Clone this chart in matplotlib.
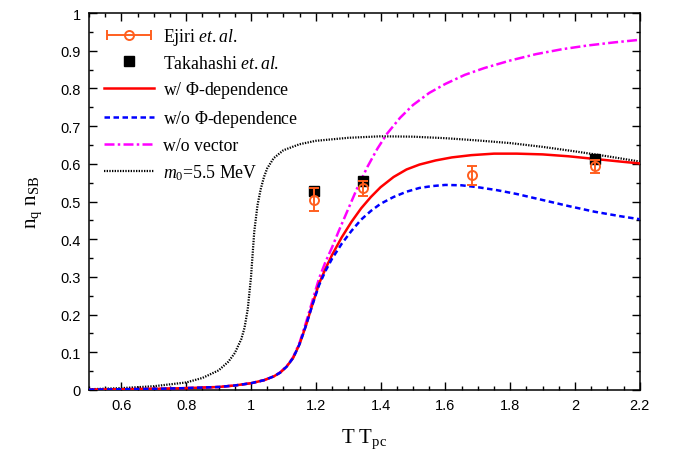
import matplotlib
matplotlib.use("Agg")
import matplotlib.pyplot as plt
import numpy as np
from matplotlib.ticker import MultipleLocator
from matplotlib.legend_handler import HandlerErrorbar

plt.rcParams['mathtext.fontset'] = 'custom'
plt.rcParams['mathtext.rm'] = 'Liberation Serif'
plt.rcParams['mathtext.it'] = 'Liberation Serif:italic'

# Lattice data
ejiri_T = [1.195, 1.346, 1.683, 2.063]
ejiri_n = [0.505, 0.535, 0.570, 0.593]
ejiri_err = [0.030, 0.020, 0.025, 0.017]

taka_T = [1.195, 1.346, 2.063]
taka_n = [0.527, 0.554, 0.614]

# Model curves
T_phi = [0.50, 0.60, 0.70, 0.80, 0.90, 0.95, 1.00, 1.04, 1.07, 1.09, 1.11, 1.13, 1.15,
         1.17, 1.19, 1.21, 1.23, 1.25, 1.28, 1.31, 1.34, 1.37, 1.40, 1.44, 1.48, 1.52,
         1.57, 1.62, 1.68, 1.75, 1.82, 1.90, 1.98, 2.06, 2.14, 2.20]
n_phi = [0.001, 0.002, 0.003, 0.005, 0.008, 0.012, 0.018, 0.026, 0.036, 0.046, 0.062,
         0.085, 0.122, 0.172, 0.228, 0.282, 0.322, 0.358, 0.405, 0.446, 0.482, 0.512,
         0.538, 0.565, 0.585, 0.598, 0.609, 0.617, 0.623, 0.627, 0.627, 0.625, 0.620,
         0.613, 0.606, 0.601]

T_nophi = [0.50, 0.60, 0.70, 0.80, 0.90, 0.95, 1.00, 1.04, 1.07, 1.09, 1.11, 1.13, 1.15,
           1.17, 1.19, 1.21, 1.23, 1.25, 1.28, 1.31, 1.34, 1.37, 1.40, 1.44, 1.48, 1.52,
           1.56, 1.60, 1.65, 1.70, 1.76, 1.82, 1.90, 1.98, 2.06, 2.14, 2.20]
n_nophi = [0.001, 0.002, 0.003, 0.005, 0.008, 0.012, 0.018, 0.026, 0.036, 0.046, 0.062,
           0.085, 0.122, 0.172, 0.227, 0.278, 0.316, 0.348, 0.388, 0.422, 0.452, 0.475,
           0.494, 0.512, 0.526, 0.536, 0.541, 0.544, 0.543, 0.538, 0.530, 0.520, 0.504,
           0.488, 0.473, 0.461, 0.453]

T_novec = [0.50, 0.60, 0.70, 0.80, 0.90, 0.95, 1.00, 1.04, 1.07, 1.09, 1.11, 1.13, 1.15,
           1.17, 1.19, 1.21, 1.23, 1.25, 1.27, 1.30, 1.33, 1.36, 1.39, 1.42, 1.46, 1.50,
           1.55, 1.60, 1.66, 1.72, 1.80, 1.88, 1.96, 2.04, 2.12, 2.20]
n_novec = [0.001, 0.002, 0.003, 0.005, 0.008, 0.012, 0.018, 0.026, 0.036, 0.047, 0.063,
           0.087, 0.126, 0.180, 0.238, 0.296, 0.340, 0.378, 0.420, 0.480, 0.540, 0.593,
           0.640, 0.680, 0.722, 0.756, 0.788, 0.812, 0.836, 0.854, 0.874, 0.891, 0.904,
           0.914, 0.922, 0.929]

T_m0 = [0.50, 0.60, 0.70, 0.80, 0.85, 0.90, 0.93, 0.95, 0.97, 0.98, 0.99, 1.00, 1.005,
        1.01, 1.02, 1.03, 1.04, 1.05, 1.07, 1.10, 1.15, 1.20, 1.30, 1.40, 1.50, 1.60,
        1.70, 1.80, 1.90, 2.00, 2.10, 2.20]
n_m0 = [0.002, 0.005, 0.010, 0.020, 0.032, 0.052, 0.075, 0.098, 0.135, 0.165, 0.215,
        0.300, 0.360, 0.420, 0.490, 0.533, 0.565, 0.588, 0.615, 0.636, 0.652, 0.661,
        0.669, 0.673, 0.672, 0.668, 0.662, 0.655, 0.645, 0.633, 0.620, 0.606]

orange = '#ff5f1f'

fig = plt.figure(figsize=(6.77, 4.60), dpi=100)
ax = fig.add_axes([0.1315, 0.150, 0.8135, 0.8195])

h_phi, = ax.plot(T_phi, n_phi, color='#ff0000', lw=1.8, zorder=3)
h_nophi, = ax.plot(T_nophi, n_nophi, color='#0000ff', lw=1.8, ls=(0, (2.2, 1.4)), zorder=3)
h_novec, = ax.plot(T_novec, n_novec, color='#ff00ff', lw=1.8, ls=(0, (4, 1.3, 1, 1.3)),
                   zorder=2)
h_m0, = ax.plot(T_m0, n_m0, color='black', lw=1.6, ls=(0, (0.6, 0.6)), zorder=2)

err_style = dict(fmt='o', mfc='none', mec=orange, ms=6.5, mew=1.4, ecolor=orange,
                 elinewidth=1.4, capsize=3.5, capthick=1.4)
ax.errorbar(ejiri_T, ejiri_n, yerr=ejiri_err, zorder=5, **err_style)
# legend key drawn as a horizontal error bar
h_ejiri = ax.errorbar([np.nan], [np.nan], xerr=[0.1], **err_style)
h_taka, = ax.plot(taka_T, taka_n, 's', color='black', ms=7, ls='none', zorder=4)

ax.set_xlim(0.5, 2.2)
ax.set_ylim(0, 1)
ax.xaxis.set_minor_locator(MultipleLocator(0.05))
ax.yaxis.set_minor_locator(MultipleLocator(0.05))
ax.set_xticks([0.6, 0.8, 1.0, 1.2, 1.4, 1.6, 1.8, 2.0, 2.2])
ax.set_xticklabels(['0.6', '0.8', '1', '1.2', '1.4', '1.6', '1.8', '2', '2.2'])
ax.set_yticks([0, 0.1, 0.2, 0.3, 0.4, 0.5, 0.6, 0.7, 0.8, 0.9, 1.0])
ax.set_yticklabels(['0', '0.1', '0.2', '0.3', '0.4', '0.5', '0.6', '0.7', '0.8', '0.9', '1'])
ax.tick_params(which='both', direction='in', top=True, right=True, width=1.0,
               labelsize=10.5, labelfontfamily='Liberation Sans', pad=6)
ax.tick_params(which='major', length=6)
ax.tick_params(which='minor', length=3)
for s in ax.spines.values():
    s.set_linewidth(1.1)

ax.set_xlabel(r'T T$_{\mathrm{pc}}$', fontsize=15, family='Liberation Serif', labelpad=10)
ax.set_ylabel(r'n$_{\mathrm{q}}$ n$_{\mathrm{SB}}$', fontsize=15, family='Liberation Serif',
              labelpad=12)

handles = [h_ejiri, h_taka, h_phi, h_nophi, h_novec, h_m0]
labels = [r'Ejiri $\it{et.al.}$', r'Takahashi $\it{et.al.}$', r'w/ $\Phi$-dependence',
          r'w/o $\Phi$-dependence', 'w/o vector', r'$m_0$=5.5 MeV']
ax.legend(handles, labels, loc='upper left', frameon=False,
          prop={'family': 'Liberation Serif', 'size': 12.8},
          handlelength=2.8, handletextpad=0.55, labelspacing=0.44,
          borderaxespad=0.0, bbox_to_anchor=(0.014, 0.985),
          handler_map={h_ejiri: HandlerErrorbar(xerr_size=1.25)})

fig.savefig('out.png', dpi=100)
